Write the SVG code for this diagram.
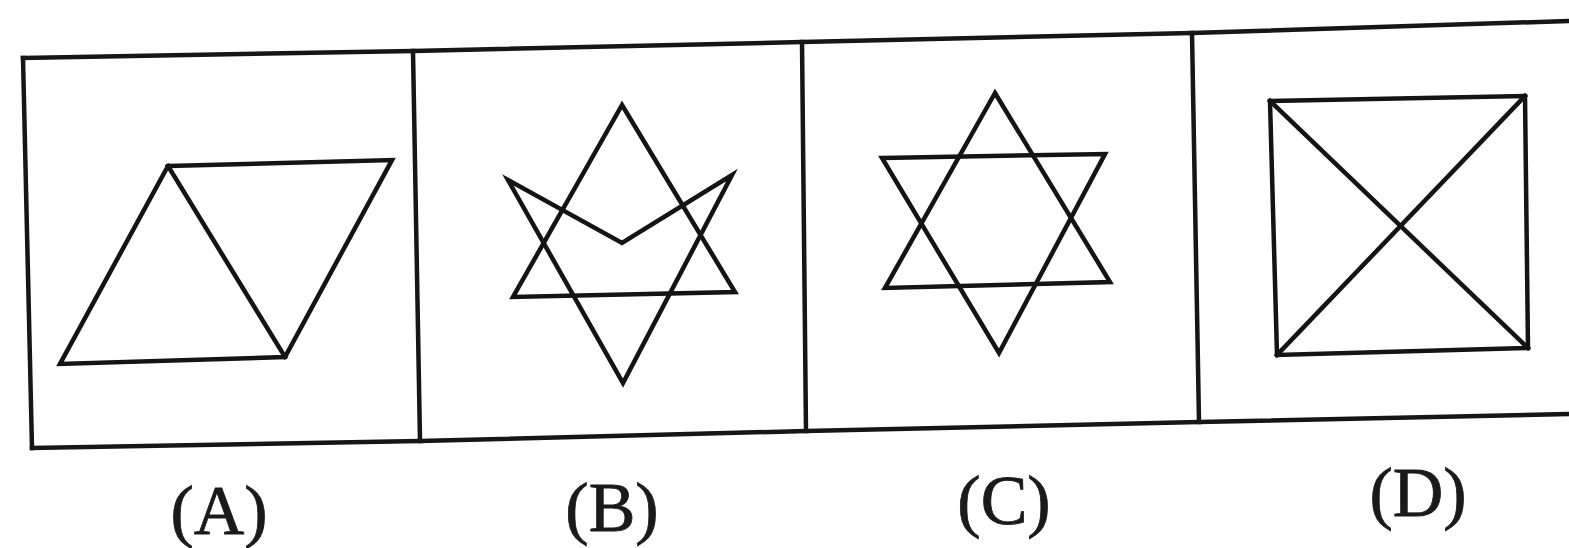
<svg xmlns="http://www.w3.org/2000/svg" width="1569" height="548" viewBox="0 0 1569 548">
<style>
.ln{fill:none;stroke:#141414;stroke-width:4.5;stroke-linejoin:miter;stroke-linecap:square}
.fr{fill:none;stroke:#161616;stroke-width:4.5;stroke-linecap:square}
.lb{font-family:"Liberation Serif","Times New Roman",serif;font-size:70px;fill:#1a1a1a;stroke:#1a1a1a;stroke-width:0.8;text-anchor:middle}
</style>
<rect width="1569" height="548" fill="#ffffff"/>
<g id="frame">
<polyline class="fr" points="23,58 413,51 802,42 1192,33 1569,21"/>
<polyline class="fr" points="32,448 420,441 806,431 1199,422 1569,414"/>
<line class="fr" x1="23" y1="58" x2="32" y2="448"/>
<line class="fr" x1="413" y1="51" x2="420" y2="441"/>
<line class="fr" x1="802" y1="42" x2="806" y2="431"/>
<line class="fr" x1="1192" y1="33" x2="1199" y2="422"/>
</g>
<g id="panel-a">
<polygon class="ln" points="168,166 392,160 285,357 60,364"/>
<line class="ln" x1="168" y1="166" x2="285" y2="357"/>
<text class="lb" x="219" y="534">(A)</text>
</g>
<g id="panel-b">
<polygon class="ln" points="622,105 513,297 735,292"/>
<polygon class="ln" points="508,180 622,243 732,175 623,383"/>
<text class="lb" x="612" y="531">(B)</text>
</g>
<g id="panel-c">
<polygon class="ln" points="995,93 885,288 1110,282"/>
<polygon class="ln" points="882,158 1105,154 999,353"/>
<text class="lb" x="1004" y="524">(C)</text>
</g>
<g id="panel-d">
<polygon class="ln" points="1270,101 1525,96 1528,348 1277,355"/>
<line class="ln" x1="1270" y1="101" x2="1528" y2="348"/>
<line class="ln" x1="1525" y1="96" x2="1277" y2="355"/>
<text class="lb" x="1418" y="516">(D)</text>
</g>
</svg>
